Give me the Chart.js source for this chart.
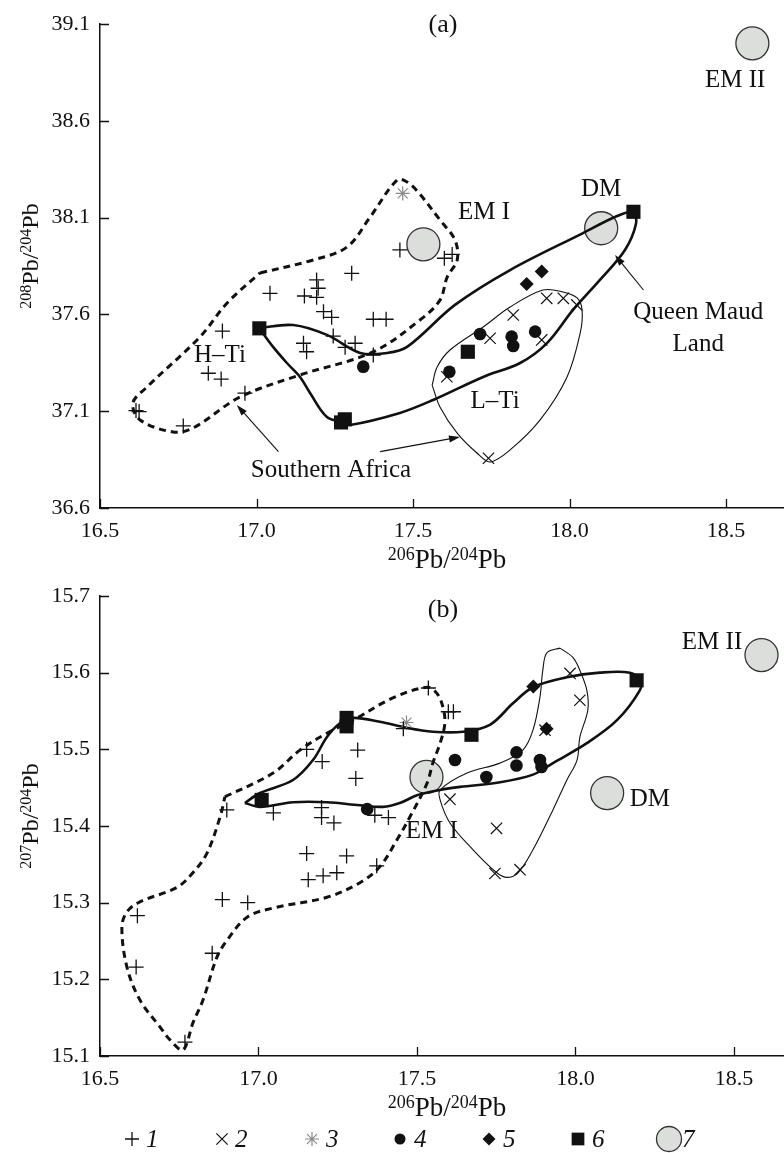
<!DOCTYPE html>
<html>
<head>
<meta charset="utf-8">
<script src="https://cdn.jsdelivr.net/npm/chart.js@4.4.0/dist/chart.umd.min.js"></script>
<style>
  body { margin: 0; background: #fff; }
  #wrap { position: relative; width: 784px; height: 1153px; overflow: hidden; }
  canvas { position: absolute; left: 0; }
</style>
</head>
<body>
<div id="wrap">
  <canvas id="chartA" width="784" height="580" style="top:0"></canvas>
  <canvas id="chartB" width="784" height="573" style="top:580px"></canvas>
</div>
<script>
// ---- axes
const xTicks = [16.5, 17.0, 17.5, 18.0, 18.5];
const yTicksA = [36.6, 37.1, 37.6, 38.1, 38.6, 39.1];
const yTicksB = [15.1, 15.2, 15.3, 15.4, 15.5, 15.6, 15.7];

// ---- (a) 206Pb/204Pb vs 208Pb/204Pb
const plusA = [[17.043,37.709],[17.153,37.695],[17.192,37.778],[17.197,37.735],[17.192,37.688],
  [17.214,37.614],[17.240,37.585],[17.304,37.812],[17.373,37.575],[17.414,37.575],[16.891,37.514],
  [17.245,37.488],[17.150,37.451],[17.160,37.407],[17.283,37.430],[17.315,37.451],[17.373,37.390],
  [16.846,37.296],[16.887,37.266],[16.963,37.193],[16.615,37.103],[16.625,37.098],[16.766,37.024],
  [17.458,37.933],[17.600,37.890],[17.625,37.910]];
const crossA = [[17.927,37.683],[17.980,37.683],[18.023,37.649],[17.820,37.597],[17.746,37.477],
  [17.911,37.468],[17.608,37.278],[17.741,36.857]];
const starA = [[17.467,38.225]];
const dotA = [[17.341,37.330],[17.714,37.499],[17.815,37.485],[17.820,37.437],[17.890,37.511],[17.616,37.304]];
const diamondA = [[17.863,37.757],[17.911,37.821]];
const squareA = [[17.009,37.528],[17.270,37.042],[17.282,37.058],[17.675,37.407],[18.204,38.130]];
const emA = [[17.533,37.962],[18.101,38.045],[18.584,39.000]];

const htiA = [[17.011,37.814],[17.181,37.881],[17.289,37.948],[17.363,38.103],[17.449,38.294],
  [17.481,38.284],[17.516,38.232],[17.586,38.088],[17.634,37.984],[17.641,37.881],[17.609,37.793],
  [17.586,37.674],[17.522,37.571],[17.372,37.406],[17.139,37.287],[16.947,37.173],[16.797,37.013],
  [16.733,36.993],[16.628,37.055],[16.605,37.142],[16.650,37.225],[16.819,37.483],[16.906,37.659]];
const qmlA = [[17.008,37.530],[17.117,37.545],[17.225,37.494],[17.331,37.401],[17.417,37.401],
  [17.481,37.432],[17.634,37.649],[17.810,37.829],[18.043,38.020],[18.152,38.108],[18.203,38.129],
  [18.212,38.067],[18.177,37.933],[18.097,37.778],[18.011,37.623],[17.928,37.452],[17.842,37.349],
  [17.724,37.277],[17.564,37.158],[17.458,37.091],[17.299,37.029],[17.276,37.044],[17.225,37.070],
  [17.171,37.194],[17.139,37.277],[17.097,37.349],[17.053,37.432]];
const ltiA = [[17.561,37.235],[17.577,37.328],[17.618,37.416],[17.724,37.535],[17.810,37.638],
  [17.915,37.726],[17.979,37.716],[18.024,37.685],[18.040,37.623],[18.034,37.504],[17.992,37.277],
  [17.906,37.055],[17.810,36.900],[17.746,36.838],[17.704,36.884],[17.641,36.987],[17.586,37.122]];

const labelsA = [
  { text: 'EM II', x: 18.529, y: 38.806 },
  { text: 'DM', x: 18.101, y: 38.248 },
  { text: 'EM I', x: 17.727, y: 38.129 },
  { text: 'H\u2013Ti', x: 16.883, y: 37.390 },
  { text: 'L\u2013Ti', x: 17.762, y: 37.153 },
  { text: 'Southern Africa', x: 17.238, y: 36.796 },
  { text: 'Queen Maud', x: 18.411, y: 37.612 },
  { text: 'Land', x: 18.411, y: 37.447 }
];
const arrowsA = [
  { from: [17.070, 36.891], to: [16.937, 37.132] },
  { from: [17.395, 36.891], to: [17.650, 36.967] },
  { from: [18.236, 37.726], to: [18.145, 37.907] }
];

// ---- (b) 206Pb/204Pb vs 207Pb/204Pb
const plusB = [[17.152,15.500],[17.201,15.484],[17.313,15.499],[17.307,15.462],[17.457,15.527],
  [17.536,15.580],[17.599,15.549],[17.615,15.549],[16.900,15.421],[17.047,15.417],[17.199,15.424],
  [17.199,15.411],[17.238,15.404],[17.367,15.414],[17.410,15.411],[17.152,15.364],[17.278,15.361],
  [17.157,15.330],[17.204,15.335],[17.247,15.339],[17.373,15.348],[16.886,15.304],[16.966,15.300],
  [16.618,15.283],[16.614,15.216],[16.854,15.234],[16.768,15.118]];
const crossB = [[17.983,15.599],[18.014,15.564],[17.904,15.525],[17.604,15.435],[17.751,15.397],
  [17.746,15.338],[17.825,15.343]];
const starB = [[17.467,15.535]];
const dotB = [[17.620,15.486],[17.814,15.496],[17.814,15.479],[17.888,15.486],[17.893,15.477],
  [17.719,15.464],[17.343,15.422]];
const diamondB = [[17.867,15.582],[17.909,15.527]];
const squareB = [[17.010,15.434],[17.278,15.541],[17.278,15.530],[17.672,15.519],[18.193,15.590]];
const emB = [[17.530,15.464],[18.100,15.443],[18.587,15.623]];

const htiB = [[16.894,15.438],[17.046,15.469],[17.131,15.499],[17.216,15.521],[17.298,15.538],
  [17.424,15.567],[17.532,15.581],[17.563,15.573],[17.582,15.555],[17.588,15.534],[17.573,15.508],
  [17.550,15.482],[17.532,15.456],[17.478,15.412],[17.437,15.382],[17.383,15.347],[17.320,15.326],
  [17.216,15.307],[17.046,15.293],[16.964,15.281],[16.901,15.251],[16.869,15.229],[16.825,15.173],
  [16.793,15.143],[16.762,15.108],[16.721,15.121],[16.689,15.138],[16.626,15.173],[16.585,15.216],
  [16.569,15.268],[16.585,15.288],[16.626,15.301],[16.743,15.320],[16.793,15.339],[16.838,15.365],
  [16.879,15.412]];
const qmlB = [[16.957,15.430],[17.005,15.443],[17.109,15.460],[17.172,15.486],[17.216,15.516],
  [17.257,15.534],[17.298,15.541],[17.383,15.536],[17.468,15.528],[17.550,15.523],[17.645,15.523],
  [17.730,15.532],[17.803,15.560],[17.866,15.581],[17.973,15.594],[18.077,15.600],[18.172,15.600],
  [18.203,15.590],[18.203,15.577],[18.131,15.538],[18.036,15.508],[17.929,15.482],[17.866,15.467],
  [17.762,15.457],[17.636,15.451],[17.573,15.447],[17.500,15.440],[17.446,15.430],[17.393,15.425],
  [17.320,15.427],[17.216,15.431],[17.109,15.431],[17.005,15.425]];
const ltiB = [[17.951,15.632],[17.910,15.626],[17.897,15.603],[17.888,15.568],[17.866,15.525],
  [17.834,15.499],[17.762,15.482],[17.658,15.469],[17.573,15.447],[17.573,15.434],[17.604,15.404],
  [17.677,15.369],[17.752,15.339],[17.784,15.333],[17.819,15.339],[17.866,15.369],[17.929,15.421],
  [17.973,15.460],[18.005,15.486],[18.014,15.516],[18.039,15.551],[18.036,15.577],[18.014,15.603],
  [17.992,15.620]];

const labelsB = [
  { text: 'EM II', x: 18.431, y: 15.639 },
  { text: 'DM', x: 18.235, y: 15.434 },
  { text: 'EM I', x: 17.547, y: 15.393 }
];

const legendItems = ['1', '2', '3', '4', '5', '6', '7'];

const FONT = '"Liberation Serif", "Times New Roman", serif';
Chart.defaults.font.family = FONT;

const pts = (arr) => arr.map((p) => ({ x: p[0], y: p[1] }));
const closed = (arr) => pts(arr.concat([arr[0]]));

const STYLE = {
  plus:    { pointStyle: 'cross',    pointRadius: 7.5, pointBorderWidth: 1.3, pointBorderColor: '#111', pointBackgroundColor: '#111' },
  cross:   { pointStyle: 'crossRot', pointRadius: 8,   pointBorderWidth: 1.2, pointBorderColor: '#111', pointBackgroundColor: '#111' },
  star:    { pointStyle: 'star',     pointRadius: 7,   pointBorderWidth: 1.2, pointBorderColor: '#8a8a8a', pointBackgroundColor: '#8a8a8a' },
  dot:     { pointStyle: 'circle',   pointRadius: 6.3, pointBorderWidth: 0,   pointBorderColor: '#111', pointBackgroundColor: '#111' },
  diamond: { pointStyle: 'rectRot',  pointRadius: 7,   pointBorderWidth: 0,   pointBorderColor: '#111', pointBackgroundColor: '#111' },
  square:  { pointStyle: 'rect',     pointRadius: 10,  pointBorderWidth: 0,   pointBorderColor: '#111', pointBackgroundColor: '#111' },
  em:      { pointStyle: 'circle',   pointRadius: 16.5, pointBorderWidth: 1.3, pointBorderColor: '#333', pointBackgroundColor: '#dcdedc' }
};

function markers(data, kind, order) {
  return Object.assign({ data: pts(data), showLine: false, order: order, pointHoverRadius: STYLE[kind].pointRadius }, STYLE[kind]);
}

function outline(data, width, dash) {
  return {
    data: closed(data),
    showLine: true,
    borderColor: '#111',
    borderWidth: width,
    borderDash: dash || [],
    tension: 0.35,
    pointRadius: 0,
    pointHoverRadius: 0,
    fill: false,
    order: 2
  };
}

function arrow(ctx, x1, y1, x2, y2) {
  const a = Math.atan2(y2 - y1, x2 - x1);
  ctx.lineWidth = 1.1;
  ctx.beginPath();
  ctx.moveTo(x1, y1);
  ctx.lineTo(x2 - 8 * Math.cos(a), y2 - 8 * Math.sin(a));
  ctx.stroke();
  ctx.beginPath();
  ctx.moveTo(x2, y2);
  ctx.lineTo(x2 - 11 * Math.cos(a) + 3.5 * Math.sin(a), y2 - 11 * Math.sin(a) - 3.5 * Math.cos(a));
  ctx.lineTo(x2 - 11 * Math.cos(a) - 3.5 * Math.sin(a), y2 - 11 * Math.sin(a) + 3.5 * Math.cos(a));
  ctx.closePath();
  ctx.fill();
}

// 206Pb/204Pb style title with superscripts
function isoTitle(ctx, top, bottom, cx, cy, size, rotate) {
  const sup = Math.round(size * 0.66);
  const parts = [[top, true], ['Pb', false], ['/', false], [bottom, true], ['Pb', false]];
  let w = 0;
  parts.forEach(([t, s]) => { ctx.font = (s ? sup : size) + 'px ' + FONT; w += ctx.measureText(t).width; });
  ctx.save();
  ctx.translate(cx, cy);
  if (rotate) ctx.rotate(-Math.PI / 2);
  ctx.textAlign = 'left';
  ctx.textBaseline = 'alphabetic';
  let x = -w / 2;
  parts.forEach(([t, s]) => {
    ctx.font = (s ? sup : size) + 'px ' + FONT;
    ctx.fillText(t, x, s ? -size * 0.3 : 0);
    x += ctx.measureText(t).width;
  });
  ctx.restore();
}

function decorations(cfg) {
  return {
    id: 'decorations',
    afterDraw(chart) {
      const { ctx, chartArea, scales: { x, y } } = chart;
      ctx.save();
      ctx.strokeStyle = '#111';
      ctx.fillStyle = '#111';
      ctx.lineWidth = 1.3;
      // inward tick marks
      ctx.beginPath();
      xTicks.forEach((v) => {
        const px = Math.round(x.getPixelForValue(v)) + 0.5;
        ctx.moveTo(px, chartArea.bottom);
        ctx.lineTo(px, chartArea.bottom - 9);
      });
      cfg.yTicks.forEach((v) => {
        const py = Math.round(y.getPixelForValue(v)) + 0.5;
        ctx.moveTo(chartArea.left, py);
        ctx.lineTo(chartArea.left + 9, py);
      });
      ctx.stroke();

      // text labels
      ctx.font = '25px ' + FONT;
      ctx.textAlign = 'center';
      ctx.textBaseline = 'middle';
      cfg.labels.forEach((l) => {
        ctx.fillText(l.text, x.getPixelForValue(l.x), y.getPixelForValue(l.y));
      });
      (cfg.arrows || []).forEach((a) => {
        arrow(ctx, x.getPixelForValue(a.from[0]), y.getPixelForValue(a.from[1]),
          x.getPixelForValue(a.to[0]), y.getPixelForValue(a.to[1]));
      });

      // panel letter
      ctx.font = '26px ' + FONT;
      ctx.fillText(cfg.panel, 443, chartArea.top + cfg.panelDy);

      // axis titles
      isoTitle(ctx, '206', '204', 447, cfg.xTitleY, 27, false);
      isoTitle(ctx, cfg.yTop, '204', 38, (chartArea.top + chartArea.bottom) / 2 - 10, 24, true);

      if (cfg.legend) drawLegend(ctx, cfg.legend);
      ctx.restore();
    }
  };
}

function drawLegend(ctx, ly) {
  const syms = [
    ['cross', 7, '#111', '#111', 1.3],
    ['crossRot', 8, '#111', '#111', 1.2],
    ['star', 7, '#8a8a8a', '#8a8a8a', 1.2],
    ['circle', 5.5, '#111', '#111', 0],
    ['rectRot', 6.5, '#111', '#111', 0],
    ['rect', 9, '#111', '#111', 0],
    ['circle', 12.5, '#dcdedc', '#333', 1.3]
  ];
  const symX = [132, 222, 312, 400, 489, 578, 669];
  const numX = [146, 235, 326, 414, 503, 592, 682];
  legendItems.forEach((n, i) => {
    const [style, r, fill, stroke, bw] = syms[i];
    ctx.fillStyle = fill;
    ctx.strokeStyle = stroke;
    ctx.lineWidth = bw;
    Chart.helpers.drawPoint(ctx, { pointStyle: style, radius: r, borderWidth: bw, rotation: 0 }, symX[i], ly);
    ctx.fillStyle = '#111';
    ctx.font = 'italic 25px ' + FONT;
    ctx.textAlign = 'left';
    ctx.textBaseline = 'middle';
    ctx.fillText(n, numX[i], ly + 1);
  });
}

function scaleOptions(min, max, ticks, fit, pad) {
  return {
    type: 'linear',
    min: min,
    max: max,
    afterBuildTicks: (s) => { s.ticks = ticks.map((v) => ({ value: v })); },
    afterFit: fit,
    grid: { display: false, drawTicks: false },
    border: { display: true, color: '#111', width: 1.5 },
    ticks: {
      color: '#111',
      font: { size: 22 },
      padding: pad,
      autoSkip: false,
      maxRotation: 0,
      callback: (v) => Number(v).toFixed(1)
    }
  };
}

function makeChart(id, cfg) {
  const datasets = [
    markers(cfg.plus, 'plus', 1),
    markers(cfg.cross, 'cross', 1),
    markers(cfg.star, 'star', 1),
    markers(cfg.dot, 'dot', 1),
    markers(cfg.diamond, 'diamond', 1),
    markers(cfg.square, 'square', 1),
    outline(cfg.hti, 3, [7, 5]),
    outline(cfg.qml, 2.6),
    outline(cfg.lti, 1.1),
    markers(cfg.em, 'em', 3)
  ];
  return new Chart(document.getElementById(id), {
    type: 'scatter',
    data: { datasets: datasets },
    options: {
      responsive: false,
      animation: false,
      layout: { autoPadding: false, padding: { top: cfg.top, left: 0, right: 0, bottom: 0 } },
      plugins: { legend: { display: false }, tooltip: { enabled: false } },
      scales: {
        x: scaleOptions(16.5, cfg.xMax, xTicks, (s) => { s.height = cfg.xAxisH; s.paddingLeft = 0; s.paddingRight = 0; }, 10),
        y: scaleOptions(cfg.yTicks[0], cfg.yTicks[cfg.yTicks.length - 1], cfg.yTicks,
          (s) => { s.width = 100; s.paddingTop = 0; s.paddingBottom = 0; }, 10)
      }
    },
    plugins: [decorations(cfg)]
  });
}

makeChart('chartA', {
  plus: plusA, cross: crossA, star: starA, dot: dotA, diamond: diamondA, square: squareA, em: emA,
  hti: htiA, qml: qmlA, lti: ltiA, labels: labelsA, arrows: arrowsA,
  yTicks: yTicksA, xMax: 18.685, top: 24, xAxisH: 72,
  panel: '(a)', panelDy: 1, xTitleY: 568, yTop: '208'
});

makeChart('chartB', {
  plus: plusB, cross: crossB, star: starB, dot: dotB, diamond: diamondB, square: squareB, em: emB,
  hti: htiB, qml: qmlB, lti: ltiB, labels: labelsB, arrows: [],
  yTicks: yTicksB, xMax: 18.658, top: 16, xAxisH: 97,
  panel: '(b)', panelDy: 14, xTitleY: 536, yTop: '207', legend: 559
});
</script>
</body>
</html>
